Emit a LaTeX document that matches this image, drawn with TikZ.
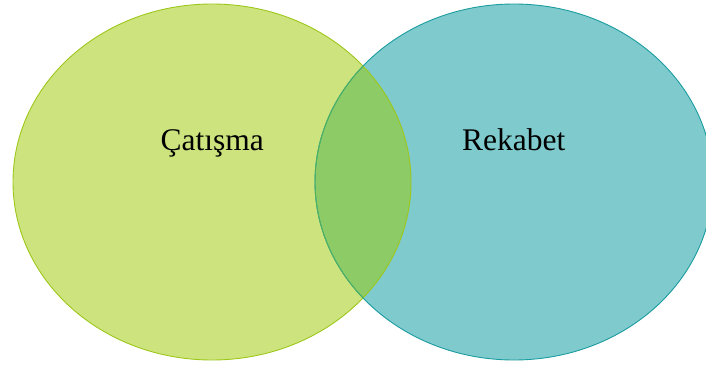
\documentclass[tikz,border=0pt]{standalone}
\usepackage{fontspec}
\setmainfont{Liberation Serif}
\definecolor{limefill}{HTML}{CDE47E}
\definecolor{limeline}{HTML}{9DC71B}
\definecolor{tealfill}{HTML}{7FCACC}
\definecolor{tealline}{HTML}{1A9CA0}
\definecolor{mixfill}{HTML}{8CCB66}
\definecolor{mixline}{HTML}{52B25C}
\begin{document}
\begin{tikzpicture}[x=1pt,y=1pt,
  setlabel/.style={anchor=base west,inner sep=0pt,font=\fontsize{31.5}{36}\selectfont}]
\useasboundingbox (0,0) rectangle (706,365);
% the two sets
\coordinate (cl) at (212,183);
\coordinate (cr) at (514,183);
\fill[limefill] (cl) ellipse [x radius=199,y radius=178];
\fill[tealfill] (cr) ellipse [x radius=199,y radius=178];
% shared region
\begin{scope}
  \clip (cl) ellipse [x radius=199,y radius=178];
  \fill[mixfill] (cr) ellipse [x radius=199,y radius=178];
\end{scope}
% outlines
\draw[limeline,line width=0.9pt] (cl) ellipse [x radius=199,y radius=178];
\begin{scope}
  \clip (706,0) rectangle (-10,400);
  \draw[tealline,line width=0.9pt] (cr) ellipse [x radius=199,y radius=178];
\end{scope}
\begin{scope}
  \clip (cl) ellipse [x radius=199,y radius=178];
  \draw[mixline,line width=0.9pt] (cr) ellipse [x radius=199,y radius=178];
\end{scope}
% labels
\node[setlabel] (conflict) at (160.5,214.5) {Çatışma};
\node[setlabel] (rivalry) at (462,214.5) {Rekabet};
\end{tikzpicture}
\end{document}
